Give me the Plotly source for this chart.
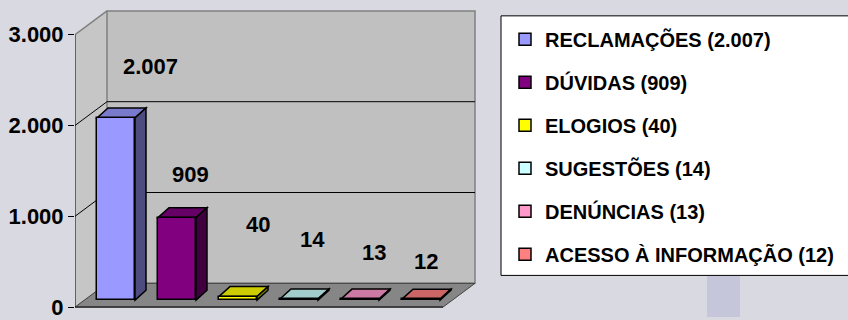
import plotly.graph_objects as go

# ---------------- data ----------------
categories = ["RECLAMAÇÕES", "DÚVIDAS", "ELOGIOS", "SUGESTÕES", "DENÚNCIAS", "ACESSO À INFORMAÇÃO"]
values = [2007, 909, 40, 14, 13, 12]
value_labels = ["2.007", "909", "40", "14", "13", "12"]
y_ticks = [0, 1000, 2000, 3000]
y_tick_labels = ["0", "1.000", "2.000", "3.000"]

# ---------------- styles ----------------
front_colors = ["#9999FF", "#800080", "#FFFF00", "#CCFFFF", "#FF99CC", "#FF8080"]
label_dx = [34, 13, 20, 13, 14, 5]       # label offset from bar top (pixels)
label_dy = [-51, -43, -72, -59, -46, -38]

W, H = 848, 320
ML = 75
PX_CAT = 61.0                 # pixels per category step
PX_UNIT = 275.0 / 3000.0      # pixels per value unit
X0 = (ML - 116) / PX_CAT      # front axis position (category units)
X1 = X0 + (W - ML) / PX_CAT
Y0 = -(H - 310) / PX_UNIT
Y1 = 310 / PX_UNIT

BAR_W = 38 / PX_CAT
BAR_BASE = 7 / PX_UNIT
BDX, BDY = 11 / PX_CAT, 10 / PX_UNIT
WDX, WDY = 32 / PX_CAT, 24 / PX_UNIT
X_RIGHT = (443 - 116) / PX_CAT
TOP = y_ticks[-1]


def shade(hexcol, f):
    h = hexcol.lstrip("#")
    r, g, b = (int(h[i:i + 2], 16) for i in (0, 2, 4))
    return "#%02x%02x%02x" % (int(r * f), int(g * f), int(b * f))


fig = go.Figure()
shapes = []

# background watermark hints
shapes.append(dict(type="rect", xref="paper", yref="paper",
                   x0=(707 - ML) / (W - ML), x1=(740 - ML) / (W - ML), y0=0, y1=1 - 278 / H,
                   fillcolor="#c6c6da", line=dict(width=0), layer="below"))

# side wall
shapes.append(dict(type="path", layer="below",
                   path=f"M{X0},0 L{X0 + WDX},{WDY} L{X0 + WDX},{TOP + WDY} L{X0},{TOP} Z",
                   fillcolor="#c6c6c6", line=dict(width=0)))
# back wall
shapes.append(dict(type="rect", layer="below", x0=X0 + WDX, x1=X_RIGHT + WDX, y0=WDY, y1=TOP + WDY,
                   fillcolor="#c0c0c0", line=dict(color="#808080", width=1.5)))
# top edge of side wall
shapes.append(dict(type="line", layer="below", x0=X0, y0=TOP, x1=X0 + WDX, y1=TOP + WDY,
                   line=dict(color="#808080", width=1.5)))
# floor
shapes.append(dict(type="path", layer="below",
                   path=f"M{X0},0 L{X_RIGHT},0 L{X_RIGHT + WDX},{WDY} L{X0 + WDX},{WDY} Z",
                   fillcolor="#868686", line=dict(color="#404040", width=1)))
# gridlines
for t in y_ticks[1:-1]:
    shapes.append(dict(type="line", layer="below", x0=X0, y0=t, x1=X0 + WDX, y1=t + WDY,
                       line=dict(color="#000000", width=1)))
    shapes.append(dict(type="line", layer="below", x0=X0 + WDX, y0=t + WDY, x1=X_RIGHT + WDX, y1=t + WDY,
                       line=dict(color="#000000", width=1)))
# front axis line
shapes.append(dict(type="line", layer="below", x0=X0, y0=0, x1=X0, y1=TOP,
                   line=dict(color="#000000", width=1)))
# floor front edge
shapes.append(dict(type="line", layer="below", x0=X0, y0=0, x1=X_RIGHT, y1=0,
                   line=dict(color="#303030", width=1.5)))

annotations = []
for i, (cat, v, col) in enumerate(zip(categories, values, front_colors)):
    fig.add_trace(go.Bar(
        x=[i], y=[v], base=BAR_BASE, width=BAR_W,
        name=f"<b>{cat} ({value_labels[i]})</b>",
        legendgroup=str(i),
        marker=dict(color=col, line=dict(color="#000000", width=1.5)),
        hoverinfo="skip",
    ))
    xl, xr = i - BAR_W / 2, i + BAR_W / 2
    yb, yt = BAR_BASE, BAR_BASE + v
    shapes.append(dict(type="path", layer="below",
                       path=f"M{xl},{yt} L{xr},{yt} L{xr + BDX},{yt + BDY} L{xl + BDX},{yt + BDY} Z",
                       fillcolor=shade(col, 0.8), line=dict(color="#000000", width=1.5)))
    shapes.append(dict(type="path", layer="below",
                       path=f"M{xr},{yb} L{xr + BDX},{yb + BDY} L{xr + BDX},{yt + BDY} L{xr},{yt} Z",
                       fillcolor=shade(col, 0.5), line=dict(color="#000000", width=1.5)))
    annotations.append(dict(x=i, y=yt, xref="x", yref="y", text=f"<b>{value_labels[i]}</b>",
                            showarrow=False, xshift=label_dx[i], yshift=-label_dy[i],
                            font=dict(size=22, color="#000000", family="Liberation Sans, Arial, sans-serif")))

# legend box
shapes.append(dict(type="rect", xref="paper", yref="paper",
                   x0=(501 - ML) / (W - ML), x1=1.05, y0=1 - 278 / H, y1=1 - 16 / H,
                   fillcolor="#ffffff", line=dict(color="#000000", width=1), layer="below"))

fig.update_layout(
    width=W, height=H,
    margin=dict(l=ML, r=0, t=0, b=0),
    paper_bgcolor="#d9d9e1",
    plot_bgcolor="rgba(0,0,0,0)",
    separators=",.",
    font=dict(family="Liberation Sans, Arial, sans-serif", color="#000000"),
    xaxis=dict(range=[X0, X1], visible=False, fixedrange=True),
    yaxis=dict(range=[Y0, Y1], showgrid=False, zeroline=False, showline=False,
               tickmode="array", tickvals=y_ticks,
               ticktext=[f"<b>{t}</b>" for t in y_tick_labels],
               ticks="outside", ticklen=6, tickcolor="#000000", tickwidth=1,
               ticklabeloverflow="allow",
               tickfont=dict(size=22, color="#000000"), fixedrange=True),
    showlegend=True,
    legend=dict(x=(505 - ML) / (W - ML), xanchor="left", y=1 - 20 / H, yanchor="top",
                bgcolor="rgba(0,0,0,0)", borderwidth=0,
                font=dict(size=20, color="#000000"), tracegroupgap=14,
                itemclick=False, itemdoubleclick=False),
    shapes=shapes,
    annotations=annotations,
    bargap=0,
)

fig.write_html("out.html", config={"displayModeBar": False},
               post_script="document.body.style.margin='0';document.body.style.background='#d9d9e1';")
